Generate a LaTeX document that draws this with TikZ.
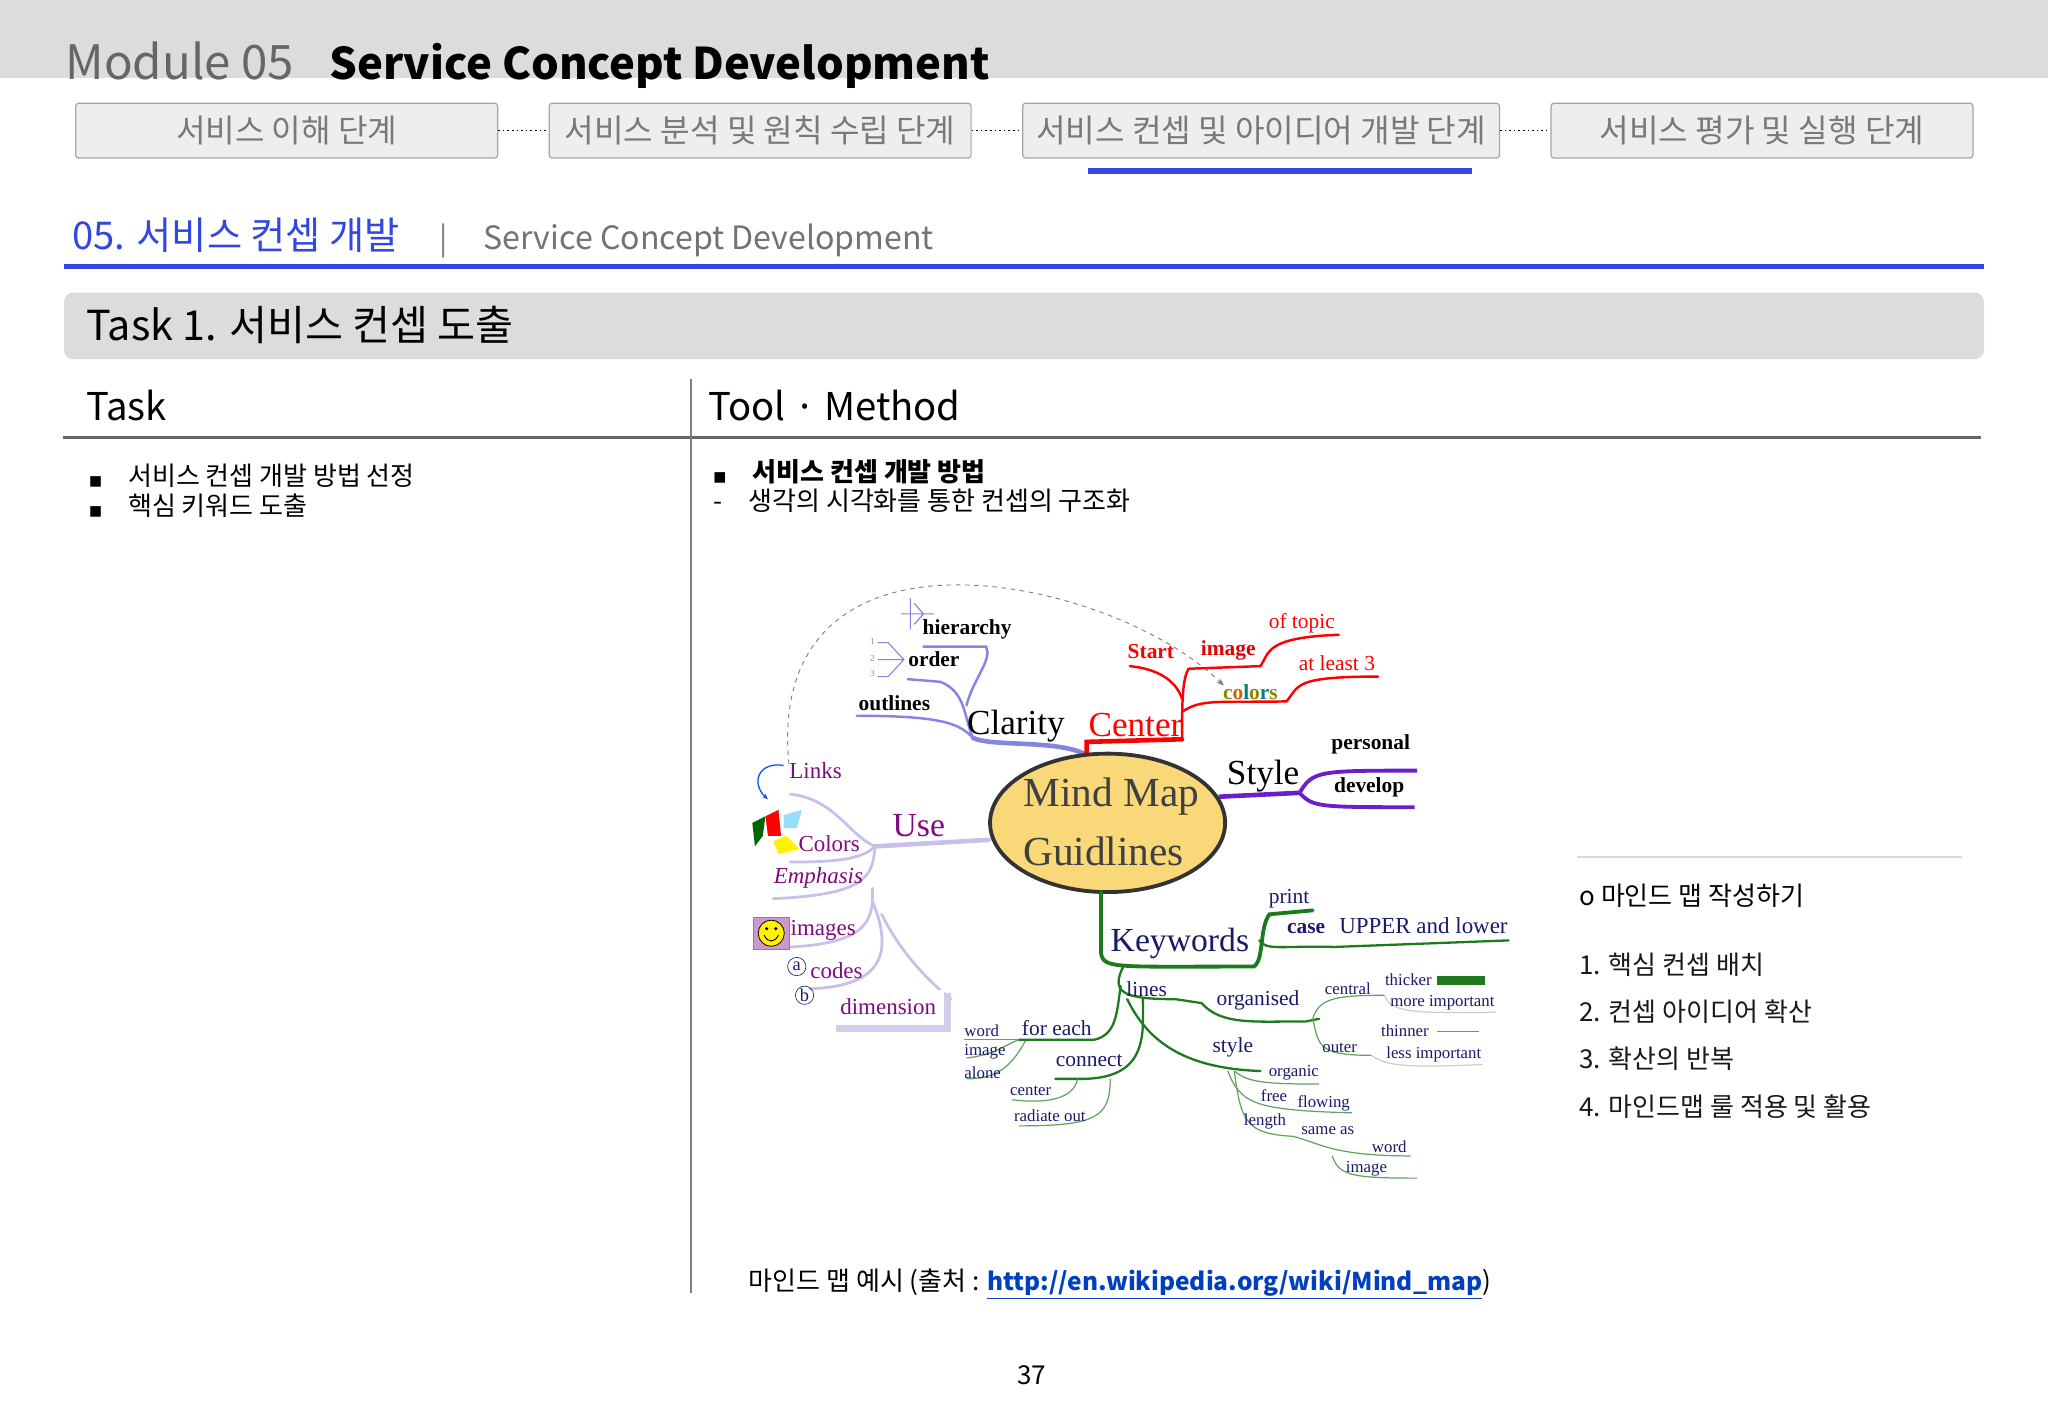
\documentclass[tikz,border=0pt]{standalone}
\usepackage{fontspec}
\setmainfont{Noto Sans CJK KR}
\newfontfamily\kr{Noto Sans CJK KR}
\newfontfamily\mm{Liberation Serif}
\newfontfamily\djv{DejaVu Sans}
\usetikzlibrary{arrows.meta,shapes.geometric}
\definecolor{tabfill}{HTML}{EEEEEE}
\definecolor{bandgray}{HTML}{DCDCDC}
\definecolor{blu}{HTML}{3346E0}
\definecolor{clar}{HTML}{8585E0}
\definecolor{usec}{HTML}{C8C0E8}
\definecolor{usetx}{HTML}{800A80}
\definecolor{kw}{HTML}{1E7A1E}
\definecolor{kwt}{HTML}{1A1A6A}
\definecolor{sty}{HTML}{6A20C8}
\definecolor{yel}{HTML}{F8D878}
\tikzset{
 tab/.style={draw=gray!70,fill=tabfill,rounded corners=2pt,line width=0.8pt,minimum width=323*0.3mm,minimum height=42*0.3mm,text=gray!95!black,font=\kr\fontsize{21}{24}\selectfont},
 lbl/.style={anchor=west,inner sep=1pt},
 cl/.style={draw=clar,line width=1.6pt,line cap=round},
 ce/.style={draw=red,line width=1.6pt,line cap=round},
 us/.style={draw=usec,line width=1.8pt,line cap=round},
 kwl/.style={draw=kw,line width=1.5pt,line cap=round},
 kwthin/.style={draw=kw!70,line width=0.8pt},
 bl/.style={font=\mm\bfseries\fontsize{14}{16}\selectfont},
 sm/.style={font=\mm\fontsize{11}{13}\selectfont,text=kwt},
 md/.style={font=\mm\fontsize{14}{16}\selectfont,text=kwt},
}
\begin{document}
\begin{tikzpicture}[x=0.3mm,y=-0.3mm]
\useasboundingbox (0,0) rectangle (1568,1085.6);
\fill[white] (0,0) rectangle (1568,1085.6);
% header
\fill[bandgray] (0,0) rectangle (1568,60);
\node[anchor=base west,inner sep=0,text=gray!80!black,font=\fontsize{31}{34}\selectfont] (mod) at (50,61) {Module 05};
\node[anchor=base west,inner sep=0,font=\bfseries\fontsize{28.5}{34}\selectfont] (modt) at (252,61) {Service Concept Development};
\node[tab] (t1) at (219.5,100) {서비스 이해 단계};
\node[tab] (t2) at (582,100) {서비스 분석 및 원칙 수립 단계};
\node[tab,minimum width=365*0.3mm] (t3) at (965.5,100) {서비스 컨셉 및 아이디어 개발 단계};
\node[tab] (t4) at (1349,100) {서비스 평가 및 실행 단계};
\draw[dotted,line width=1pt] (t1.east) -- (t2.west);
\draw[dotted,line width=1pt] (t2.east) -- (t3.west);
\draw[dotted,line width=1pt] (t3.east) -- (t4.west);
\draw[blu,line width=3.5pt] (833,131) -- (1127,131);
\node[anchor=base west,inner sep=0,text=blu,font=\fontsize{25}{30}\selectfont] (sec) at (55,191) {05. 서비스 컨셉 개발};
\node[anchor=base west,inner sep=0,text=gray,font=\fontsize{20}{24}\selectfont] (bar) at (336,191) {|};
\node[anchor=base west,inner sep=0,text=gray!90!black,font=\fontsize{21}{26}\selectfont] (sece) at (370,191) {Service Concept Development};
\draw[blu,line width=3.5pt] (49,204) -- (1519,204);
\fill[bandgray,rounded corners=6pt] (49,224) rectangle (1519,275);
\node[anchor=base west,inner sep=0,font=\fontsize{27}{32}\selectfont] (task1) at (66,261) {Task 1. 서비스 컨셉 도출};
\node[anchor=base west,inner sep=0,font=\fontsize{25}{28}\selectfont] (th) at (66,322) {Task};
\node[anchor=base west,inner sep=0,font=\fontsize{25}{28}\selectfont] (tm) at (542,322) {Tool · Method};
\draw[gray!80!black,line width=2pt] (48,335) -- (1517,335);
\draw[gray,line width=1pt] (529,290) -- (529,990);
\node[anchor=base west,inner sep=0,font=\fontsize{17}{20}\selectfont] (b1) at (68,372) {\djv\fontsize{9}{10}\selectfont ■\kr\fontsize{17}{20}\selectfont\quad 서비스 컨셉 개발 방법 선정};
\node[anchor=base west,inner sep=0,font=\fontsize{17}{20}\selectfont] (b2) at (68,395) {\djv\fontsize{9}{10}\selectfont ■\kr\fontsize{17}{20}\selectfont\quad 핵심 키워드 도출};
\node[anchor=base west,inner sep=0,font=\bfseries\fontsize{17}{20}\selectfont] (r1) at (546,369) {\djv\fontsize{9}{10}\selectfont ■\kr\bfseries\fontsize{17}{20}\selectfont\quad 서비스 컨셉 개발 방법};
\node[anchor=base west,inner sep=0,font=\fontsize{17}{20}\selectfont] (r2) at (546,391) {-\quad 생각의 시각화를 통한 컨셉의 구조화};
% right panel
\draw[gray!30,line width=1pt] (1207,656) -- (1502,656);
\node[anchor=base west,inner sep=0,font=\fontsize{17}{20}\selectfont] (o) at (1209,693) {o 마인드 맵 작성하기};
\foreach \t/\y [count=\i] in {핵심 컨셉 배치/746,컨셉 아이디어 확산/782,확산의 반복/818,마인드맵 룰 적용 및 활용/855}
  \node[anchor=base west,inner sep=0,text=gray!20!black,font=\fontsize{17}{20}\selectfont] (li\i) at (1209,\y) {\i. \t};
\node[anchor=base west,inner sep=0,font=\fontsize{17}{20}\selectfont] (cap) at (573,988) {마인드 맵 예시 (출처 : {\color{blue!50!teal}\bfseries\fontsize{16}{20}\selectfont\underline{http://en.wikipedia.org/wiki/Mind\_map}})};
\node[anchor=base,inner sep=0,font=\fontsize{17}{20}\selectfont] (pg) at (790,1060) {37};
% ===== mind map =====
\draw[gray,dashed,line width=0.6pt,-{Stealth[length=5pt]}] (604,585) .. controls (585,385) and (850,440) .. (937,525);
% Clarity
\draw[cl,line width=3pt] (832,578) .. controls (810,566) and (760,572) .. (745,565);
\draw[cl] (745,565) .. controls (735,555) and (725,548) .. (656,548);
\draw[cl] (745,565) .. controls (738,550) and (740,530) .. (720,522) -- (695,520);
\draw[cl] (740,540) .. controls (745,520) and (760,505) .. (755,495) -- (707,495);
\draw[clar,line width=0.8pt] (690,470) -- (715,470) (700,462) -- (707,470) -- (700,478) (697,458)--(697,482);
\draw[clar,line width=0.7pt] (672,492)--(680,492) -- (692,505) -- (680,518)--(672,518) (672,505)--(692,505);
\node[font=\mm\fontsize{6}{6}\selectfont,text=clar,inner sep=0] at (668,491) {1};
\node[font=\mm\fontsize{6}{6}\selectfont,text=clar,inner sep=0] at (668,504) {2};
\node[font=\mm\fontsize{6}{6}\selectfont,text=clar,inner sep=0] at (668,516) {3};
\node[lbl,bl] (hier) at (705,482) {hierarchy};
\node[lbl,bl] (ord) at (694,505) {order};
\node[lbl,bl] (outl) at (656,538) {outlines};
\node[lbl,font=\mm\fontsize{23}{26}\selectfont] (clar) at (739,556) {Clarity};
% Center
\draw[ce,line width=3pt] (832,580) -- (832,568) -- (905,566);
\draw[ce] (905,566) .. controls (905,540) and (905,520) .. (910,512) -- (965,510) .. controls (972,500) and (968,488) .. (1025,486);
\draw[ce] (905,535) .. controls (900,520) and (885,512) .. (865,510);
\draw[ce] (905,545) .. controls (920,535) and (930,538) .. (985,537) .. controls (995,525) and (990,518) .. (1055,518);
\node[lbl,bl,text=red] (start) at (862,499) {Start};
\node[lbl,bl,text=red!90!black] (img) at (918,498) {image};
\node[lbl,font=\mm\fontsize{14}{16}\selectfont,text=red] (oft) at (970,477) {of topic};
\node[lbl,font=\mm\fontsize{14}{16}\selectfont,text=red] (al3) at (993,508) {at least 3};
\node[lbl,bl] (cols) at (935,530) {\color{olive}c\color{orange!80!black}o\color{teal}l\color{olive}o\color{teal}r\color{olive}s};
\node[lbl,font=\mm\fontsize{23}{26}\selectfont,text=red] (cent) at (832,555) {Center};
% Style
\draw[draw=sty,line width=3pt] (933,610) -- (995,607);
\draw[draw=sty,line width=2.5pt] (995,607) .. controls (1005,590) and (1010,590) .. (1085,590);
\draw[draw=sty,line width=2.5pt] (995,607) .. controls (1005,618) and (1010,618) .. (1083,618);
\node[lbl,font=\mm\fontsize{23}{26}\selectfont] (styl) at (938,594) {Style};
\node[lbl,bl] (pers) at (1018,570) {personal};
\node[lbl,bl] (dev) at (1020,603) {develop};
% Use
\draw[us,line width=3pt] (757,643) -- (670,648);
\draw[us] (670,648) .. controls (650,640) and (640,612) .. (605,608);
\draw[us] (670,648) .. controls (660,658) and (640,660) .. (605,660);
\draw[us] (670,648) .. controls (668,670) and (665,685) .. (592,688);
\draw[us] (668,680) .. controls (668,700) and (670,722) .. (605,725);
\draw[us] (668,690) .. controls (680,720) and (685,755) .. (620,757);
\draw[us] (675,700) .. controls (690,730) and (710,750) .. (728,765);
\fill[usec!80] (640,760) rectangle (728,790);
\fill[white] (638,758) rectangle (723,785);
\draw[blue!70!cyan,line width=0.8pt,-{Stealth[length=4pt]}] (600,586) .. controls (580,583) and (575,600) .. (588,612);
\fill[green!40!black] (576,630) -- (586,625) -- (584,640) -- (578,648) -- cycle;
\fill[red] (586,625) -- (596,620) -- (598,640) -- (588,640) -- cycle;
\fill[cyan!40] (600,624) -- (614,620) -- (610,634) -- (600,634) -- cycle;
\fill[yellow] (592,644) -- (602,640) -- (612,650) -- (596,654) -- cycle;
\fill[violet!40,draw=violet!60] (577,702) rectangle (604,727);
\fill[yellow,draw=black,line width=0.5pt] (590.5,714.5) circle (10);
\fill (587,711) circle (1.3) (594,711) circle (1.3);
\draw[line width=0.6pt] (585,716) .. controls (588,722) and (593,722) .. (596,716);
\draw[kwt] (610,740) circle (7) (616,762) circle (7);
\node[font=\mm\fontsize{12}{12}\selectfont,text=kwt,inner sep=0] at (610,740) {a};
\node[font=\mm\fontsize{12}{12}\selectfont,text=kwt,inner sep=0] at (616,762) {b};
\node[lbl,font=\mm\fontsize{15}{17}\selectfont,text=usetx] (links) at (603,590) {Links};
\node[lbl,font=\mm\fontsize{15}{17}\selectfont,text=usetx] (colr) at (610,646) {Colors};
\node[lbl,font=\mm\itshape\fontsize{15}{17}\selectfont,text=usetx] (emph) at (591,672) {Emphasis};
\node[lbl,font=\mm\fontsize{15}{17}\selectfont,text=usetx] (imgs) at (604,712) {images};
\node[lbl,font=\mm\fontsize{15}{17}\selectfont,text=usetx] (code) at (619,743) {codes};
\node[lbl,font=\mm\fontsize{15}{17}\selectfont,text=usetx] (dim) at (642,771) {dimension};
\node[lbl,font=\mm\fontsize{22}{24}\selectfont,text=usetx] (use) at (682,632) {Use};
% ellipse
\node[draw=black!80,line width=2.5pt,fill=yel,ellipse,minimum width=180*0.3mm,minimum height=106*0.3mm,inner sep=0] (mmc) at (848,630) {};
\node[font=\mm\fontsize{27}{30}\selectfont,text=black!75] at (851,610) {Mind Map};
\node[font=\mm\fontsize{27}{30}\selectfont,text=black!75] at (845,652) {Guidlines};
% Keywords
\draw[kwl,line width=2.5pt] (843,683) -- (843,730) .. controls (845,742) and (855,740) .. (960,740) .. controls (968,735) and (964,710) .. (972,700) -- (1005,697);
\draw[kwl] (964,720) .. controls (970,728) and (980,724) .. (1022,725) -- (1155,720);
\draw[kwl] (860,740) .. controls (850,760) and (860,765) .. (900,765) -- (920,768) .. controls (935,785) and (960,782) .. (1000,782) -- (1010,780);
\draw[kwl] (858,755) .. controls (855,775) and (855,792) .. (838,796) -- (780,796);
\draw[kwl] (875,765) .. controls (875,790) and (880,825) .. (830,826) -- (808,826);
\draw[kwl] (863,765) .. controls (880,800) and (910,818) .. (965,820);
\draw[kwthin] (780,796) .. controls (770,800) and (760,808) .. (740,810);
\draw[kwthin] (785,797) .. controls (775,815) and (765,826) .. (740,826);
\draw[kwthin] (738,796) -- (780,796);
\draw[kwthin] (825,826) .. controls (822,842) and (800,845) .. (775,842);
\draw[kwthin] (850,826) .. controls (850,855) and (840,862) .. (780,862);
\draw[kwthin] (1005,780) .. controls (1010,765) and (1020,762) .. (1060,762);
\draw[kwthin] (1005,780) .. controls (1010,800) and (1008,808) .. (1050,808);
\draw[gray!40,line width=0.8pt] (1060,762) .. controls (1065,775) and (1080,776) .. (1145,775);
\draw[kwthin] (1100,790) -- (1132,790);
\draw[gray!40,line width=0.8pt] (1050,808) .. controls (1060,815) and (1070,818) .. (1135,815);
\fill[kw] (1100,747) rectangle (1137,754);
\draw[kwthin] (945,820) .. controls (955,828) and (965,830) .. (1010,830);
\draw[kwthin] (940,820) .. controls (950,845) and (960,850) .. (1035,852);
\draw[kwthin] (945,820) .. controls (950,860) and (955,868) .. (990,870) .. controls (1010,875) and (1020,885) .. (1080,885);
\draw[kwthin] (1020,885) .. controls (1025,900) and (1035,902) .. (1085,902);
\node[lbl,md] (print) at (970,688) {print};
\node[lbl,md,font=\mm\bfseries\fontsize{14}{16}\selectfont] (case) at (984,711) {case};
\node[lbl,md,font=\mm\fontsize{15}{17}\selectfont] (upper) at (1024,709) {UPPER and lower};
\node[lbl,font=\mm\fontsize{22}{26}\selectfont,text=kwt] (keyw) at (849,722) {Keywords};
\node[lbl,md] (lines) at (861,757) {lines};
\node[lbl,md] (org) at (930,766) {organised};
\node[lbl,sm] (centr) at (1013,757) {central};
\node[lbl,sm] (thick) at (1059,750) {thicker};
\node[lbl,sm] (mimp) at (1063,768) {more important};
\node[lbl,sm] (thin) at (1056,789) {thinner};
\node[lbl,sm] (outr) at (1011,802) {outer};
\node[lbl,sm] (limp) at (1060,807) {less important};
\node[lbl,md] (styl2) at (927,802) {style};
\node[lbl,sm] (orgc) at (970,821) {organic};
\node[lbl,sm] (free) at (964,839) {free};
\node[lbl,sm] (flow) at (992,845) {flowing};
\node[lbl,sm] (len) at (951,859) {length};
\node[lbl,sm] (same) at (995,866) {same as};
\node[lbl,sm] (word2) at (1049,878) {word};
\node[lbl,sm] (imag2) at (1029,895) {image};
\node[lbl,md] (fe) at (781,787) {for each};
\node[lbl,sm] (word) at (737,789) {word};
\node[lbl,sm] (imag) at (737,805) {image};
\node[lbl,sm] (alone) at (737,821) {alone};
\node[lbl,md] (conn) at (807,812) {connect};
\node[lbl,sm] (centr2) at (772,835) {center};
\node[lbl,sm] (rad) at (775,854) {radiate out};
\end{tikzpicture}
\end{document}
